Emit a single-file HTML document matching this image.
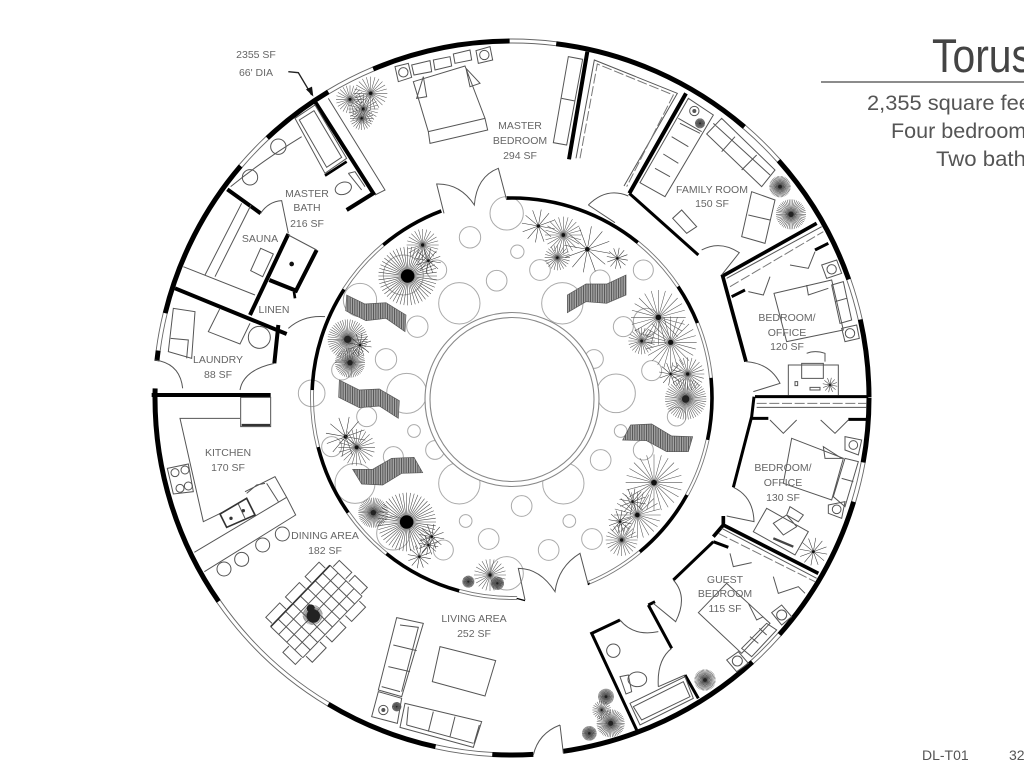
<!DOCTYPE html>
<html><head><meta charset="utf-8"><style>
html,body{margin:0;padding:0;background:#fff;width:1024px;height:768px;overflow:hidden}
svg{display:block;filter:blur(.35px)}
.t{fill:none;stroke:#555;stroke-width:3}
.l{fill:none;stroke:#777;stroke-width:3}
.w{fill:none;stroke:#000;stroke-width:12}
.c{fill:none;stroke:#aaa;stroke-width:3}
.st{fill:url(#hatch);stroke:#555;stroke-width:2}
text{font-family:"Liberation Sans",sans-serif;fill:#666;font-size:10.5px;text-anchor:middle}
.h{text-anchor:start;fill:#555;font-size:21px}
</style></head><body>
<svg width="1024" height="768" viewBox="0 0 1024 768" xmlns="http://www.w3.org/2000/svg">
<defs>
<pattern id="hatch" width="7" height="7" patternUnits="userSpaceOnUse"><rect width="7" height="7" fill="#a5a5a5"/><rect width="3" height="7" fill="#555"/></pattern>
<path id="s12" d="M10 0L-10 0M8.66 5L-8.66 -5M5 8.66L-5 -8.66M0 10V-10M-5 8.66L5 -8.66M-8.66 5L8.66 -5" fill="none" stroke="currentColor" stroke-width=".55" vector-effect="non-scaling-stroke"/>
<g id="s24"><use href="#s12"/><use href="#s12" transform="rotate(15)"/></g>
<g id="a" color="#444"><use href="#s24"/><use href="#s24" transform="rotate(7.5)"/><circle r="2.3" fill="#000"/></g>
<g id="b" color="#555"><use href="#s24"/><circle r="1" fill="#111"/></g>
<g id="c" color="#333"><use href="#s12" transform="rotate(10)"/><circle r="1" fill="#111"/></g>
<g id="d" color="#555"><use href="#s24"/><use href="#s24" transform="rotate(7.5)"/><circle r="1.8" fill="#222"/></g>
</defs>

<!-- courtyard -->
<g transform="translate(310,190) scale(.33333)">
<g class="c">
<circle cx="480" cy="142" r="32"/><circle cx="622" cy="185" r="20"/><circle cx="560" cy="272" r="31"/><circle cx="448" cy="340" r="62"/><circle cx="322" cy="410" r="32"/><circle cx="228" cy="508" r="32"/><circle cx="290" cy="610" r="60"/><circle cx="312" cy="723" r="19"/><circle cx="375" cy="780" r="28"/><circle cx="448" cy="880" r="62"/><circle cx="635" cy="948" r="31"/><circle cx="467" cy="993" r="19"/><circle cx="536" cy="1047" r="31"/><circle cx="716" cy="1080" r="31"/><circle cx="846" cy="1047" r="31"/><circle cx="778" cy="993" r="19"/><circle cx="872" cy="810" r="31"/><circle cx="760" cy="880" r="62"/><circle cx="932" cy="723" r="19"/><circle cx="918" cy="610" r="58"/><circle cx="852" cy="507" r="28"/><circle cx="940" cy="410" r="30"/><circle cx="757" cy="340" r="62"/><circle cx="690" cy="240" r="31"/><circle cx="870" cy="270" r="30"/><circle cx="1000" cy="240" r="30"/><circle cx="1025" cy="542" r="30"/><circle cx="1100" cy="680" r="28"/><circle cx="1000" cy="780" r="30"/><circle cx="590" cy="1150" r="50"/><circle cx="170" cy="680" r="30"/><circle cx="150" cy="330" r="50"/><circle cx="95" cy="540" r="30"/><circle cx="5" cy="610" r="40"/><circle cx="65" cy="770" r="30"/><circle cx="250" cy="800" r="30"/><circle cx="135" cy="880" r="60"/><circle cx="400" cy="1080" r="30"/><circle cx="380" cy="240" r="30"/><circle cx="250" cy="1030" r="50"/><circle cx="590" cy="70" r="50"/><circle cx="1010" cy="395" r="40"/><circle cx="280" cy="255" r="60"/>
</g>
<use href="#a" transform="translate(293 258) scale(8.8)"/><use href="#b" transform="translate(338 165) scale(4.8)"/><use href="#c" transform="translate(355 212) scale(3.8)"/>
<use href="#c" transform="translate(685 108) scale(5)"/><use href="#b" transform="translate(760 135) scale(5.5)"/><use href="#c" transform="translate(832 178) scale(7)"/><use href="#b" transform="translate(742 203) scale(3.8)"/><use href="#c" transform="translate(922 205) scale(3.2)"/>
<use href="#b" transform="translate(1045 382) scale(8.2)"/><use href="#b" transform="translate(995 453) scale(4)"/><use href="#b" transform="translate(1082 457) scale(7.8)"/><use href="#c" transform="translate(1082 552) scale(3.5)"/><use href="#b" transform="translate(1133 552) scale(5)"/><use href="#d" transform="translate(1127 627) scale(6.2)"/>
<use href="#d" transform="translate(113 448) scale(6)"/><use href="#c" transform="translate(150 465) scale(3.5)"/><use href="#d" transform="translate(120 518) scale(4.5)"/>
<use href="#c" transform="translate(107 740) scale(6)"/><use href="#b" transform="translate(140 772) scale(5.5)"/>
<use href="#d" transform="translate(190 968) scale(4.5)"/><use href="#a" transform="translate(290 996) scale(8.8)"/><use href="#c" transform="translate(365 1040) scale(3.8)"/><use href="#c" transform="translate(355 1065) scale(3)"/><use href="#c" transform="translate(328 1100) scale(3.5)"/>
<use href="#d" transform="translate(475 1175) scale(1.8)"/><use href="#b" transform="translate(540 1155) scale(4.8)"/><use href="#d" transform="translate(562 1180) scale(2)"/>
<use href="#b" transform="translate(1032 878) scale(8.5)"/><use href="#c" transform="translate(968 935) scale(4)"/><use href="#b" transform="translate(982 975) scale(7)"/><use href="#c" transform="translate(930 995) scale(3.5)"/><use href="#b" transform="translate(935 1050) scale(4.8)"/>
<g class="st">
<polygon points="110,315 165,342 228,338 288,375 285,425 228,385 168,392 107,362"/>
<polygon points="88,570 148,600 208,597 268,632 265,685 208,648 148,653 86,622"/>
<polygon points="128,838 188,838 245,805 312,802 338,848 275,850 218,885 155,882"/>
<polygon points="962,705 1025,702 1085,738 1148,740 1135,785 1070,785 1010,752 938,750"/>
<polygon points="772,315 828,282 890,282 948,255 948,315 890,340 828,335 772,368"/>
</g>
</g>
<circle cx="512" cy="399.5" r="87" fill="#fff" stroke="#888" stroke-width="1.1"/>
<circle cx="512" cy="399.5" r="82" fill="#fff" stroke="#888" stroke-width="1.1"/>

<!-- inner ring wall -->
<g fill="none">
<circle cx="512" cy="398" r="198.5" pathLength="360" stroke="#777" stroke-width=".9" stroke-dasharray="0 12.1 16.9 21.3 17.4 20.8 16.8 23.6 16.1 20.8 16.5 30.6 17 79.1 17.1 11.9 16.2 5.8"/>
<circle cx="512" cy="398" r="201.5" pathLength="360" stroke="#777" stroke-width=".9" stroke-dasharray="0 12.1 16.9 21.3 17.4 20.8 16.8 23.6 16.1 20.8 16.5 30.6 17 79.1 17.1 11.9 16.2 5.8"/>
<circle cx="512" cy="398" r="200" pathLength="360" stroke="#000" stroke-width="3.6" stroke-dasharray="12.1 16.9 21.3 55 23.6 16.1 20.8 16.5 30.6 17 19.4 19.2 40.5 17.1 11.9 16.2 5.8"/>
<!-- outer ring wall -->
<circle cx="512" cy="398" r="355" pathLength="360" stroke="#666" stroke-width=".9" stroke-dasharray="0 10.4 6.5 24.6 6.2 45.5 9.2 18.6 24.3 42.4 6.1 26.8 6.2 12.3 8.1 22.5 7.5 33.5 7.7 22.3 6.7 12.6"/>
<circle cx="512" cy="398" r="359" pathLength="360" stroke="#666" stroke-width=".9" stroke-dasharray="0 10.4 6.5 24.6 6.2 45.5 9.2 18.6 24.3 42.4 6.1 26.8 6.2 12.3 8.1 22.5 7.5 33.5 7.7 22.3 6.7 12.6"/>
<circle cx="512" cy="398" r="357" pathLength="360" stroke="#000" stroke-width="5" stroke-dasharray="10.4 6.5 24.6 6.2 34.1 4.8 6.6 9.2 18.6 24.3 36.3 4.4 1.7 6.1 26.8 6.2 12.3 8.1 22.5 7.5 33.5 7.7 22.3 6.7 12.6"/>
</g>

<!-- upper-left quadrant -->
<g transform="translate(140,30) scale(.33333)">
<path class="w" d="M525 215L700 490L620 540M262 478L362 550M105 775L440 912M445 612L330 855M388 750L468 782L530 660M415 885L403 1000M35 1095H392"/>
<path class="w" style="stroke-width:8" d="M620 395L555 437M462 785L465 805"/>
<path class="t" d="M565 205L735 480L705 495M465 265L525 225L620 385L555 430ZM478 270L522 242L605 382L560 412ZM272 470Q370 390 485 320M362 550Q385 515 425 512L445 610M333 525L225 740M305 520L195 735M130 710L345 795M362 655L400 672L368 740L332 722ZM625 430L665 480M625 430L645 425L675 470M445 615L530 660M240 835L205 905L300 942L330 880M100 835L165 845L155 985L85 965ZM92 925L145 930L140 985M445 895Q490 855 555 860M300 1080Q310 1020 403 1000M128 1075Q120 1000 45 990"/>
<ellipse class="t" cx="610" cy="475" rx="25" ry="18" transform="rotate(-20 610 475)"/>
<circle class="t" cx="415" cy="350" r="23"/><circle class="t" cx="330" cy="442" r="23"/><circle class="t" cx="358" cy="922" r="33"/>
<circle cx="455" cy="702" r="7" fill="#111"/>
<path class="t" d="M820 155L975 108L1035 265L865 305ZM865 305L1035 265L1043 300L870 340ZM850 140L860 200L830 205ZM978 115L1020 160L990 170ZM815 105L870 92L875 125L822 135ZM880 90L930 80L935 108L885 120ZM940 72L990 60L995 90L945 100ZM765 110L805 100L815 142L775 155ZM1008 62L1050 50L1058 90L1015 100Z"/>
<circle class="t" cx="790" cy="127" r="14"/><circle class="t" cx="1033" cy="75" r="14"/>
<use href="#b" transform="translate(630 208) scale(4.2)"/><use href="#b" transform="translate(692 190) scale(5)"/><use href="#b" transform="translate(670 237) scale(4.5)"/><use href="#b" transform="translate(665 265) scale(3.5)"/>
<path d="M445 125L475 128L515 195" fill="none" stroke="#222" stroke-width="4"/><path d="M520 200L498 178L516 170Z" fill="#111"/>
<path class="t" d="M912 550L890 462Q960 460 1003 525Q1010 440 1075 415L1100 510"/>
</g>

<!-- upper-right quadrant -->
<g transform="translate(500,30) scale(.33333)">
<path class="w" d="M262 65L207 388M558 190L388 490"/>
<path class="w" style="stroke-width:9" d="M388 490L595 675M695 800L735 780M945 660L985 640M765 1100H1105"/>
<path class="w" style="stroke-width:11" d="M950 580L668 738L738 995"/>
<path class="t" d="M205 80L248 88L200 345L160 338ZM185 205L225 213M228 385L283 90L532 190L372 468M265 525Q320 470 385 498M265 525L345 578M605 660Q660 630 718 668L665 735M738 995Q810 1000 840 1060L760 1085"/>
<path class="l" stroke-dasharray="30 8" d="M240 385L292 102L520 195L380 470M690 770L970 605"/>
<path class="t" d="M680 745L965 590"/>
<path class="t" d="M565 205L640 255L495 500L420 458ZM535 265L605 305M540 280L600 310M515 320L565 350M490 372L535 400M465 415L510 440M665 265L825 420L785 470L620 312ZM705 320L665 365M770 375L725 420M640 280L810 435M755 485L825 510L795 640L725 620ZM745 555L810 570M545 540L590 590L560 610L518 565ZM745 785L790 795L810 740M870 705L925 715L945 665M822 790L995 750L1030 900L860 935ZM920 765L925 795L985 775M995 765L1030 755L1055 870L1020 880ZM1005 815L1040 805M965 705L1010 690L1025 730L980 745ZM1025 895L1070 885L1078 925L1035 935ZM865 1095V1005H1015V1095M905 1000H970V1045H905ZM920 970Q945 960 975 970L975 995M885 1055h8v12h-8zM930 1072h30v8h-30z"/>
<circle class="t" cx="583" cy="243" r="14"/><circle cx="583" cy="243" r="6" fill="#555"/>
<circle class="t" cx="995" cy="718" r="14"/><circle class="t" cx="1050" cy="910" r="14"/>
<use href="#d" transform="translate(840 470) scale(3.2)"/><use href="#d" transform="translate(873 553) scale(4.5)"/><use href="#d" transform="translate(600 280) scale(1.5)"/><use href="#c" transform="translate(990 1065) scale(2.2)"/>
</g>

<!-- lower-left quadrant -->
<g transform="translate(140,390) scale(.33333)">
<path class="t" d="M300 85H120L190 395L245 368M302 22H392V110H302ZM82 235L145 222L160 305L100 312ZM163 487L440 322L405 260L315 305M193 545L467 375L440 322M380 280L415 335M320 310L350 285L375 280"/>
<path d="M305 105H390" stroke="#333" stroke-width="7"/>
<g class="t"><circle cx="105" cy="248" r="12"/><circle cx="135" cy="240" r="12"/><circle cx="120" cy="295" r="12"/><circle cx="145" cy="288" r="12"/><circle cx="252" cy="537" r="21"/><circle cx="305" cy="508" r="21"/><circle cx="368" cy="465" r="21"/><circle cx="427" cy="432" r="21"/></g>
<path d="M240 372L320 325L345 375L260 412Z" fill="#fff" stroke="#333" stroke-width="5"/>
<path class="t" d="M295 342L315 385"/><circle cx="273" cy="385" r="5" fill="#333"/><circle cx="310" cy="362" r="5" fill="#333"/>
<g transform="translate(392 710) rotate(-46)">
<path class="t" d="M0 0V134M32 0V134M64 0V134M96 0V134M128 0V134M160 0V134M192 0V134M224 0V134M256 0V134M0 0H256M0 33.5H256M0 67H256M0 100.5H256M0 134H256"/>
<path d="M0 0H256" stroke="#333" stroke-width="5"/>
<path class="t" d="M10 -4V-30H70V-4M95 -4V-30H155V-4M180 -4V-30H240V-4M10 138V164H70V138M95 138V164H155V138M180 138V164H240V138M260 10H286V62H260M260 75H286V127H260M-4 80H-30V132H-4"/>
</g>
<use href="#d" transform="translate(518 675) scale(3) " /><circle cx="520" cy="678" r="20" fill="#222"/><circle cx="512" cy="655" r="12" fill="#222"/>
<path class="t" d="M770 683L850 700L785 920L715 900ZM780 705L835 712L785 905M760 765L830 782M745 830L810 845M725 890L780 905M715 905L785 925L772 1000L695 980ZM795 940L1025 995L1000 1072L780 1012ZM880 965L865 1025M945 980L930 1040M800 1005L1000 1060M805 950L800 1005M1018 1005L1002 1060M900 770L1067 812L1035 918L877 875Z"/>
<circle class="t" cx="730" cy="960" r="14"/><circle cx="730" cy="960" r="6" fill="#555"/>
<use href="#d" transform="translate(770 950) scale(1.4)"/>
</g>

<!-- lower-right quadrant -->
<g transform="translate(500,390) scale(.33333)">
<path class="w" style="stroke-width:9" d="M762 20L755 80L700 292M755 85H805M1045 88H1100M640 455L520 570M640 455L685 472M445 645L515 775M445 645L465 635M360 690L275 730L410 1020M555 855L595 925"/>
<path class="w" style="stroke-width:11" d="M670 378V405L955 550M670 405L640 440"/>
<path class="l" stroke-dasharray="30 8" d="M770 40H1100M655 430L945 575"/>
<path class="t" d="M770 52H1100M665 415L950 565M700 292Q760 320 762 395L680 378M520 570Q565 620 527 695L460 640M555 855L475 890M390 940L555 860L580 925L420 1005ZM400 950L550 875L570 920L425 990ZM360 690Q400 740 475 725M515 775Q470 810 475 890M360 860L385 855L395 905L378 912ZM595 668L680 580L810 700L725 790ZM815 668L845 645L875 680L845 705ZM680 810L715 785L745 820L710 845ZM725 775L800 700L830 720L755 800ZM750 740L775 760M778 715L800 735M745 640L770 690L790 680M690 490L700 530L755 518M820 560L835 610L895 590L915 610M875 145L1030 205L995 330L850 280ZM970 170L1025 205L975 205ZM1035 205L1075 215L1035 350L1000 320ZM1025 265L1060 275M1035 140L1085 150L1075 195L1035 180ZM985 345L1035 335L1025 385L985 370ZM810 90L850 130L890 90M962 90L1005 130L1045 90M800 355L925 425L885 495L760 425ZM870 350L910 375L895 395L860 375ZM820 400L860 375L890 410L850 435Z"/>
<circle class="t" cx="1060" cy="165" r="13"/><circle class="t" cx="1010" cy="358" r="13"/><circle class="t" cx="845" cy="675" r="15"/><circle class="t" cx="712" cy="813" r="15"/><circle class="t" cx="340" cy="782" r="20"/>
<ellipse class="t" cx="412" cy="868" rx="28" ry="22"/>
<path d="M820 445L880 470" stroke="#444" stroke-width="7"/>
<use href="#c" transform="translate(940 485) scale(4.2)"/><use href="#d" transform="translate(615 870) scale(3.2)"/><use href="#d" transform="translate(318 920) scale(2.4)"/><use href="#b" transform="translate(305 960) scale(2.8)"/><use href="#d" transform="translate(332 1000) scale(4.2)"/><use href="#d" transform="translate(268 1030) scale(2.2)"/>
<path class="t" d="M75 630L55 535Q120 535 165 605Q175 530 240 490L265 585M180 1005L190 1090M180 1005Q115 1030 100 1095"/>
<path class="w" style="stroke-width:4" d="M50 625L75 632M265 585L268 578"/>
</g>

<!-- labels -->
<text x="256" y="58">2355 SF</text><text x="256" y="76">66' DIA</text>
<text x="520" y="129">MASTER</text><text x="520" y="144">BEDROOM</text><text x="520" y="159">294 SF</text>
<text x="307" y="197">MASTER</text><text x="307" y="211">BATH</text><text x="307" y="227">216 SF</text>
<text x="260" y="242">SAUNA</text><text x="274" y="313">LINEN</text>
<text x="218" y="363">LAUNDRY</text><text x="218" y="378">88 SF</text>
<text x="228" y="456">KITCHEN</text><text x="228" y="471">170 SF</text>
<text x="325" y="539">DINING AREA</text><text x="325" y="554">182 SF</text>
<text x="474" y="622">LIVING AREA</text><text x="474" y="637">252 SF</text>
<text x="725" y="583">GUEST</text><text x="725" y="597">BEDROOM</text><text x="725" y="612">115 SF</text>
<text x="783" y="471">BEDROOM/</text><text x="783" y="486">OFFICE</text><text x="783" y="501">130 SF</text>
<text x="787" y="321">BEDROOM/</text><text x="787" y="336">OFFICE</text><text x="787" y="350">120 SF</text>
<text x="712" y="193">FAMILY ROOM</text><text x="712" y="207">150 SF</text>

<text x="932" y="72" style="text-anchor:start;font-size:47px;fill:#444" textLength="100" lengthAdjust="spacingAndGlyphs">Torus</text>
<line x1="821" y1="82" x2="1024" y2="82" stroke="#666" stroke-width="1.4"/>
<text class="h" x="867" y="110" textLength="170" lengthAdjust="spacingAndGlyphs">2,355 square feet</text>
<text class="h" x="891" y="138" textLength="146" lengthAdjust="spacingAndGlyphs">Four bedrooms</text>
<text class="h" x="936" y="166" textLength="101" lengthAdjust="spacingAndGlyphs">Two baths</text>
<text x="922" y="760" style="text-anchor:start;font-size:14px;fill:#555">DL-T01</text>
<text x="1009" y="760" style="text-anchor:start;font-size:14px;fill:#555">32</text>
</svg>
</body></html>
